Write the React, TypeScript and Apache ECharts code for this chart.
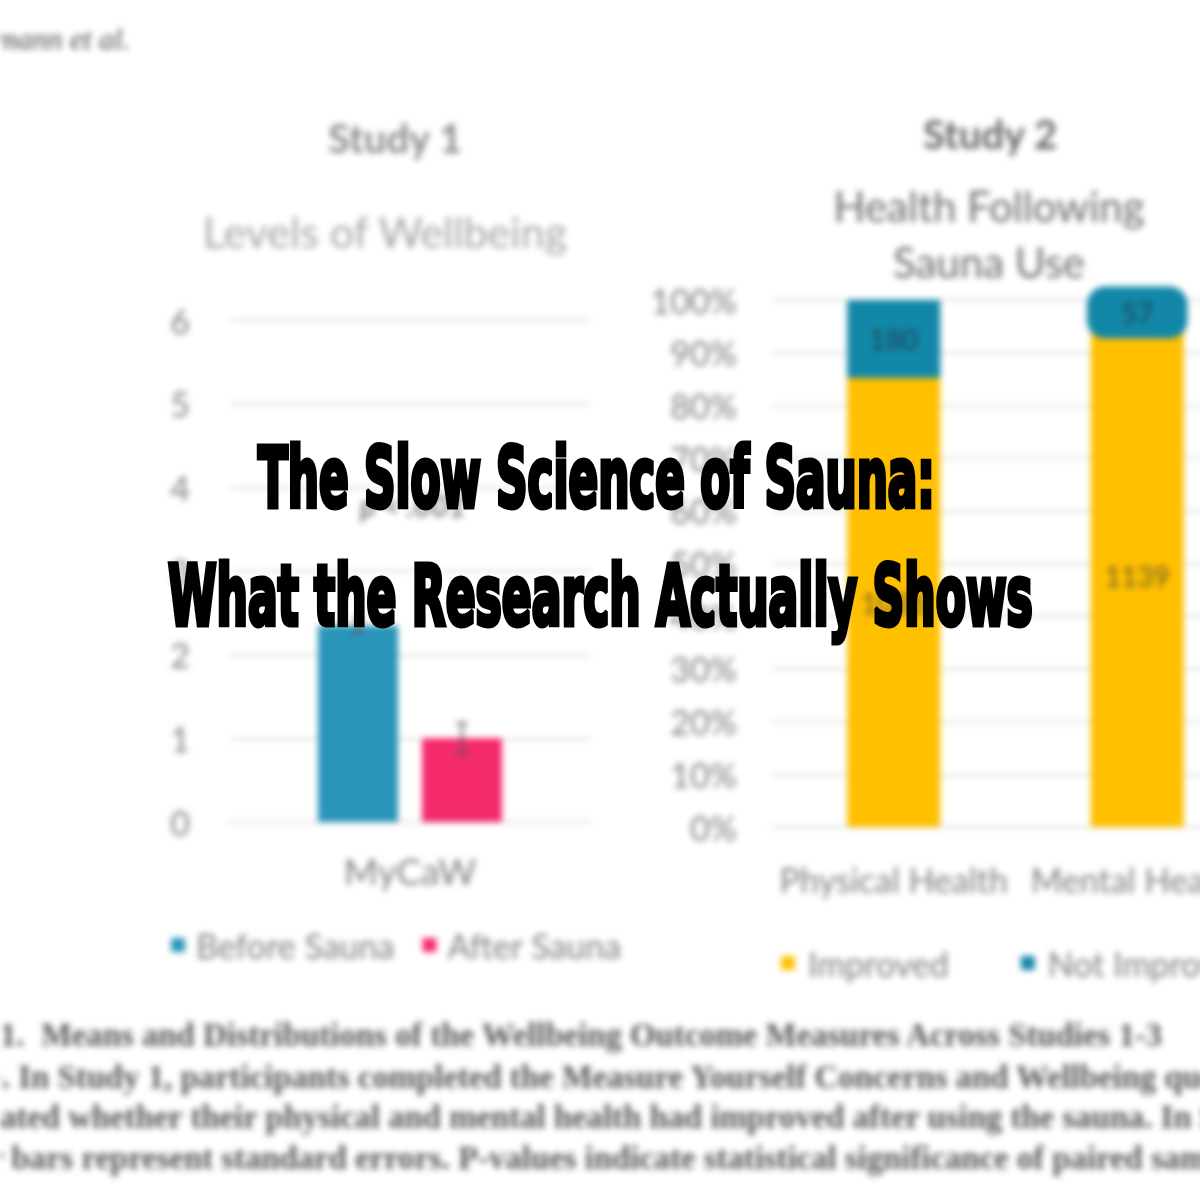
import React, { useEffect, useRef } from "react";
import * as echarts from "echarts";

// ---------- data ----------
const study1Categories = ["MyCaW"];
const beforeSauna = [2.35];
const afterSauna = [1.0];
const beforeSE = [0.08];
const afterSE = [0.18];
const study1Ticks = [0, 1, 2, 3, 4, 5, 6];

const study2Categories = ["Physical Health", "Mental Health"];
const improvedCounts = [1036, 1139];
const notImprovedCounts = [180, 57];

const headlineLines = ["The Slow Science of Sauna:", "What the Research Actually Shows"];
const captionLines = [
  { hidden: "Figure ", shown: "1.  Means and Distributions of the Wellbeing Outcome Measures Across Studies 1-3" },
  { hidden: "Note", shown: ". In Study 1, participants completed the Measure Yourself Concerns and Wellbeing questionnaire" },
  { hidden: "indic", shown: "ated whether their physical and mental health had improved after using the sauna. In Study 3" },
  { hidden: "Error ", shown: "bars represent standard errors. P-values indicate statistical significance of paired samples t-tests" },
];

const measure = (t: string, font: string) => {
  const c = document.createElement("canvas").getContext("2d")!;
  c.font = font;
  return c.measureText(t).width;
};

const AX = "#7f7f7f";
const GRID = "#d9d9d9";
const FONT = "Lato";

function ChartLayer() {
  const ref = useRef<HTMLDivElement>(null);
  useEffect(() => {
    const chart = echarts.init(ref.current!, null, { renderer: "svg" });
    const total = improvedCounts.map((v, i) => v + notImprovedCounts[i]);
    const improvedPct = improvedCounts.map((v, i) => (v / total[i]) * 100);
    const notPct = notImprovedCounts.map((v, i) => (v / total[i]) * 100);

    const BAR_W = 80;
    const GAP = 24;

    const capFont = 'bold 33px "Liberation Serif"';
    const capScale = 1165 / measure(captionLines[0].shown, capFont);
    const capY = [1035, 1077, 1117, 1158];
    const capOffsets = [0, 2, 0, 12];

    const errItem = (side: number, se: number[]) => (params: any, api: any) => {
      const v = api.value(1);
      const ci = api.value(0);
      const s = se[params.dataIndex];
      const top = api.coord([ci, v + s]);
      const bot = api.coord([ci, v - s]);
      const x = top[0] + side * (BAR_W / 2 + GAP / 2);
      return {
        type: "group",
        children: [
          { type: "line", shape: { x1: x, y1: top[1], x2: x, y2: bot[1] }, style: { stroke: "#555", lineWidth: 2 } },
          { type: "line", shape: { x1: x - 6, y1: top[1], x2: x + 6, y2: top[1] }, style: { stroke: "#555", lineWidth: 2 } },
          { type: "line", shape: { x1: x - 6, y1: bot[1], x2: x + 6, y2: bot[1] }, style: { stroke: "#555", lineWidth: 2 } },
        ],
      };
    };

    chart.setOption({
      animation: false,
      backgroundColor: "#ffffff",
      textStyle: { fontFamily: FONT },
      title: [
        { text: "Study 1", left: 390, top: 113, textAlign: "center", textStyle: { fontSize: 40, fontWeight: "bold", color: "#8a8a8a", fontFamily: FONT } },
        { text: "Levels of Wellbeing", left: 380, top: 205, textAlign: "center", textStyle: { fontSize: 43, fontWeight: "normal", color: "#a5a5a5", fontFamily: FONT } },
        { text: "Study 2", left: 985, top: 109, textAlign: "center", textStyle: { fontSize: 40, fontWeight: "bold", color: "#666666", fontFamily: FONT } },
        { text: "Health Following\nSauna Use", left: 984, top: 173, textAlign: "center", textStyle: { fontSize: 42, lineHeight: 56, fontWeight: "normal", color: "#6a6a6a", fontFamily: FONT } },
      ],
      legend: [
        {
          data: ["Before Sauna", "After Sauna"], left: 166, top: 923, icon: "rect", itemWidth: 14, itemHeight: 14, itemGap: 28,
          textStyle: { fontSize: 34, color: AX, fontFamily: FONT, padding: [0, 0, 0, 6] },
        },
        {
          data: ["Improved", "Not Improved"], left: 776, top: 941, icon: "rect", itemWidth: 14, itemHeight: 14, itemGap: 72,
          textStyle: { fontSize: 34, color: AX, fontFamily: FONT, padding: [0, 0, 0, 8] },
        },
      ],
      grid: [
        { left: 230, top: 320, width: 360, height: 502 },
        { left: 772, top: 300, width: 487, height: 527 },
      ],
      xAxis: [
        {
          type: "category", gridIndex: 0, data: study1Categories,
          axisLine: { lineStyle: { color: GRID, width: 2 } }, axisTick: { show: false },
          axisLabel: { fontSize: 37, color: AX, margin: 30 },
        },
        {
          type: "category", gridIndex: 1, data: study2Categories,
          axisLine: { lineStyle: { color: GRID, width: 2 } }, axisTick: { show: false },
          axisLabel: { fontSize: 34, color: AX, margin: 35, interval: 0 },
        },
      ],
      yAxis: [
        {
          type: "value", gridIndex: 0, min: study1Ticks[0], max: study1Ticks[study1Ticks.length - 1], interval: 1,
          axisLabel: { fontSize: 34, color: AX, margin: 40 },
          splitLine: { lineStyle: { color: GRID, width: 2 } }, axisLine: { show: false }, axisTick: { show: false },
        },
        {
          type: "value", gridIndex: 1, min: 0, max: 100, interval: 10,
          axisLabel: { fontSize: 34, color: AX, margin: 35, formatter: "{value}%" },
          splitLine: { lineStyle: { color: GRID, width: 2 } }, axisLine: { show: false }, axisTick: { show: false },
        },
      ],
      series: [
        { name: "Before Sauna", type: "bar", xAxisIndex: 0, yAxisIndex: 0, data: beforeSauna, barWidth: BAR_W, barGap: `${(GAP / BAR_W) * 100}%`, itemStyle: { color: "#2a94b9" } },
        { name: "After Sauna", type: "bar", xAxisIndex: 0, yAxisIndex: 0, data: afterSauna, barWidth: BAR_W, itemStyle: { color: "#f42a6b" } },
        { type: "custom", xAxisIndex: 0, yAxisIndex: 0, data: beforeSauna.map((v, i) => [i, v]), renderItem: errItem(-1, beforeSE), z: 5 },
        { type: "custom", xAxisIndex: 0, yAxisIndex: 0, data: afterSauna.map((v, i) => [i, v]), renderItem: errItem(1, afterSE), z: 5 },
        {
          name: "Improved", type: "bar", stack: "s2", xAxisIndex: 1, yAxisIndex: 1, data: improvedPct, barWidth: 93,
          itemStyle: { color: "#ffc000" },
          label: { show: true, position: "inside", fontSize: 28, color: "#6b5a2a", formatter: (p: any) => String(improvedCounts[p.dataIndex]) },
        },
        {
          name: "Not Improved", type: "bar", stack: "s2", xAxisIndex: 1, yAxisIndex: 1, barWidth: 93,
          itemStyle: { color: "#1287a8" },
          data: notPct.map((v, i) =>
            i === 1
              ? { value: v, label: { backgroundColor: "#1287a8", padding: [12, 34], borderRadius: 18 } }
              : v
          ),
          label: { show: true, position: "inside", fontSize: 28, color: "#1c4656", formatter: (p: any) => String(notImprovedCounts[p.dataIndex]) },
        },
      ],
      graphic: [
        { type: "text", x: 130, y: 38, style: { text: "Hermann et al.", font: 'italic 30px "Liberation Serif"', fill: "#444", align: "right", verticalAlign: "middle" } },
        { type: "text", x: 413, y: 505, style: { text: "p < .001", font: 'italic bold 30px Lato', fill: AX, align: "center", verticalAlign: "middle" } },
        ...captionLines.map((l, i) => ({
          type: "text",
          x: capOffsets[i] - measure(l.hidden, capFont) * capScale,
          y: capY[i],
          scaleX: capScale,
          style: { text: l.hidden + l.shown, font: capFont, fill: "#555555", align: "left", verticalAlign: "middle" },
        })),
      ],
    });
    return () => chart.dispose();
  }, []);
  return <div ref={ref} style={{ width: 1300, height: 1200, filter: "blur(3px)" }} />;
}

function HeadlineLayer() {
  const ref = useRef<HTMLDivElement>(null);
  useEffect(() => {
    const chart = echarts.init(ref.current!, null, { renderer: "svg" });
    const font = 'bold 84px "DejaVu Sans Condensed"';
    const targets = [
      { left: 258, right: 935, y: 478 },
      { left: 168, right: 1033, y: 596 },
    ];
    chart.setOption({
      animation: false,
      graphic: headlineLines.map((t, i) => {
        const w = measure(t, font);
        const s = (targets[i].right - targets[i].left) / w;
        return {
          type: "text",
          x: targets[i].left,
          y: targets[i].y,
          scaleX: s,
          style: { text: t, font, fill: "#000", stroke: "#000", lineWidth: 5, lineJoin: "miter", align: "left", verticalAlign: "middle" },
        };
      }),
    });
    return () => chart.dispose();
  }, []);
  return <div ref={ref} style={{ position: "absolute", left: 0, top: 0, width: 1200, height: 1200 }} />;
}

export default function App() {
  return (
    <div style={{ position: "fixed", left: 0, top: 0, width: 1200, height: 1200, overflow: "hidden", background: "#fff" }}>
      <ChartLayer />
      <HeadlineLayer />
    </div>
  );
}
